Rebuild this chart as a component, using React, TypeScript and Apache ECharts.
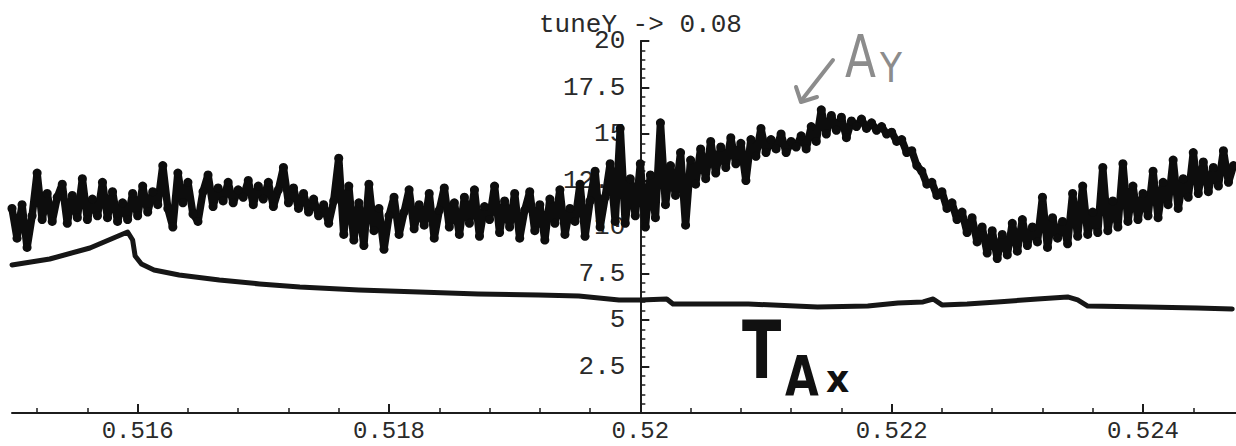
import React, { useEffect, useRef } from "react";
import * as echarts from "echarts";

// Horizontal range of the scan
const xMin = 0.515;
const xMax = 0.52474;

// Axis tick positions and labels
const xMajorTicks = [0.516, 0.518, 0.52, 0.522, 0.524];
const xMinorTicks = [
  0.5152, 0.5156, 0.5164, 0.5168, 0.5172, 0.5176, 0.5184, 0.5188, 0.5192, 0.5196,
  0.5204, 0.5208, 0.5212, 0.5216, 0.5224, 0.5228, 0.5232, 0.5236, 0.5244,
];
const yTickStep = 2.5;
const yMax = 20;
const yAxisCrossing = 0.52;

const titleText = "tuneY -> 0.08";

// Ay: noisy amplitude, sampled every 0.00004 starting at 0.515
const ayStart = 0.515;
const ayStep = 0.00004;
const ayValues = [
  11.0, 9.4, 11.2, 8.9, 10.6, 12.9, 10.4, 11.8, 10.3, 11.6, 12.3, 10.2, 11.7, 10.5, 12.6, 10.4,
  11.5, 10.6, 12.4, 10.5, 11.9, 10.3, 11.3, 10.4,
  11.8, 10.6, 12.2, 10.8, 11.9, 11.2, 13.3, 11.0, 10.0, 12.9, 11.3, 12.4, 10.7, 10.3, 11.9, 12.8,
  11.1, 12.1, 11.4, 12.4, 11.3, 12.0, 11.6, 12.5, 11.2, 12.2, 11.5, 12.4, 11.1, 12.0, 13.2, 11.3,
  12.1, 11.0, 11.8, 10.8, 11.5,
  10.6, 11.2, 10.2, 11.4, 13.7, 9.6, 12.2, 9.3, 11.3, 9.0, 12.3, 9.8, 11.0, 8.8, 10.6,
  11.6, 9.6, 10.8, 12.0, 9.9, 11.2, 10.1, 11.8, 9.4, 10.9, 12.1, 10.0, 11.3, 9.6, 11.6, 10.2,
  12.0, 9.5, 11.1, 10.4, 12.2, 9.7, 11.4, 10.0, 11.8, 9.4, 10.9, 11.9, 9.8, 11.2, 9.3, 11.5,
  10.2, 12.0, 9.6, 11.0, 10.3, 12.3, 9.5, 11.4, 13.0, 10.0, 11.6, 13.4, 10.3,
  15.3, 10.2, 12.6, 10.6, 13.4, 10.0, 12.8, 10.5, 15.6, 11.2,
  13.3, 11.7, 14.0, 10.1, 13.6, 12.3, 14.2, 12.6, 14.6, 12.9, 14.3, 13.2, 14.8, 13.4, 14.5, 12.5,
  14.7, 13.8, 15.3, 14.0, 14.7, 14.2, 15.0, 14.0, 14.6, 14.3, 14.9, 14.2, 15.4, 14.6,
  16.3, 15.0, 16.0, 15.2, 15.9, 14.8, 15.7, 15.4, 15.8, 15.3, 15.6, 15.2, 15.4, 15.0, 15.1, 14.6,
  14.7, 14.0, 14.1, 13.3,
  13.0, 12.3, 12.4, 11.7, 11.9, 11.0, 11.3, 10.4, 10.8, 9.7, 10.5, 9.2, 10.0, 8.6, 9.8, 8.3,
  9.6, 8.5, 10.2, 8.7,
  10.4, 9.0, 10.0, 9.2, 11.6, 8.9, 10.5, 9.4, 10.3, 9.1, 11.8, 9.5, 12.2, 9.6, 10.8, 9.7,
  13.2, 9.8, 11.4, 10.0, 13.4, 10.3, 12.2, 10.4, 11.8, 10.6, 13.0, 10.5, 12.4, 11.2, 13.6, 11.0,
  12.6, 11.6, 14.0, 11.8, 13.5, 11.9, 13.2, 12.2, 14.1, 12.4, 13.3,
];

// TAx: smooth amplitude trace
const taxX = [
  0.515, 0.5153, 0.51562, 0.51592, 0.51596, 0.51598, 0.51603, 0.51613, 0.51633, 0.51665,
  0.51697, 0.51729, 0.51776, 0.51824, 0.51871, 0.51919, 0.51951, 0.51983, 0.52, 0.52021,
  0.52026, 0.52086, 0.52141, 0.52181, 0.52205, 0.52225, 0.52233, 0.5224, 0.5226, 0.52284,
  0.52316, 0.5234, 0.52348, 0.52356, 0.52403, 0.52443, 0.52471,
];
const taxY = [
  7.96, 8.28, 8.87, 9.73, 9.3, 8.44, 8.01, 7.69, 7.42, 7.15,
  6.94, 6.77, 6.61, 6.51, 6.4, 6.34, 6.29, 6.08, 6.08, 6.13,
  5.86, 5.86, 5.7, 5.75, 5.91, 5.97, 6.13, 5.81, 5.86, 5.97,
  6.13, 6.24, 6.08, 5.75, 5.7, 5.65, 5.59,
];

const W = 1236;
const H = 446;
const gridLeft = 12;
const gridRight = 0;
const gridTop = 41;
const gridBottom = 33;
const mono = "'Liberation Mono', 'DejaVu Sans Mono', monospace";

export default function App() {
  const ref = useRef<HTMLDivElement>(null);

  useEffect(() => {
    if (!ref.current) return;
    const chart = echarts.init(ref.current, undefined, { renderer: "svg" });

    const ayData = ayValues.map((v, i) => [ayStart + i * ayStep, v]);
    const taxData = taxX.map((x, i) => [x, taxY[i]]);

    const plotWidth = W - gridLeft - gridRight;
    const yAxisOffset = -((yAxisCrossing - xMin) / (xMax - xMin)) * plotWidth;

    const ink = "#1c1c1c";
    const pencil = "#8c8c8c";
    const marker = "#111111";

    chart.setOption({
      animation: false,
      backgroundColor: "#ffffff",
      title: {
        text: titleText,
        left: 534,
        top: 7,
        textStyle: { fontFamily: mono, fontSize: 26, fontWeight: "normal", color: "#2a2a2a" },
      },
      grid: { left: gridLeft, right: gridRight, top: gridTop, bottom: gridBottom, containLabel: false },
      xAxis: [
        {
          type: "value",
          min: xMin,
          max: xMax,
          position: "bottom",
          splitLine: { show: false },
          axisLine: { show: true, onZero: false, lineStyle: { color: ink, width: 2 } },
          axisTick: {
            show: true,
            inside: true,
            length: 9,
            customValues: xMajorTicks,
            lineStyle: { color: ink, width: 2 },
          },
          axisLabel: {
            show: true,
            customValues: xMajorTicks,
            margin: 6,
            fontFamily: mono,
            fontSize: 24,
            lineHeight: 24,
            color: "#2a2a2a",
          },
        },
        {
          type: "value",
          min: xMin,
          max: xMax,
          position: "bottom",
          splitLine: { show: false },
          axisLine: { show: false, onZero: false },
          axisTick: {
            show: true,
            inside: true,
            length: 5,
            customValues: xMinorTicks,
            lineStyle: { color: ink, width: 1.5 },
          },
          axisLabel: { show: false },
        },
      ],
      yAxis: {
        type: "value",
        min: 0,
        max: yMax,
        interval: yTickStep,
        position: "left",
        offset: yAxisOffset,
        splitLine: { show: false },
        axisLine: { show: true, onZero: false, lineStyle: { color: ink, width: 2 } },
        axisTick: { show: true, inside: true, length: 9, lineStyle: { color: ink, width: 2 } },
        minorTick: { show: true, splitNumber: 5, length: 5, lineStyle: { color: ink, width: 1.5 } },
        axisLabel: {
          margin: 15,
          fontFamily: mono,
          fontSize: 26,
          color: "#2a2a2a",
          formatter: (v: number) => (v === 0 ? "" : String(v)),
        },
      },
      graphic: [
        // pencil note "Ay" with its arrow
        {
          type: "line",
          shape: { x1: 833, y1: 60, x2: 801, y2: 101 },
          style: { stroke: pencil, lineWidth: 4, lineCap: "round" },
          z: 20,
        },
        {
          type: "polyline",
          shape: { points: [[796, 87], [801, 102], [817, 97]] },
          style: { stroke: pencil, lineWidth: 4, lineCap: "round", lineJoin: "round", fill: "none" },
          z: 20,
        },
        {
          type: "text",
          x: 845,
          y: 86,
          scaleX: 0.78,
          style: { text: "A", font: "normal 58px 'DejaVu Sans'", fill: pencil, verticalAlign: "bottom" },
          z: 20,
        },
        {
          type: "text",
          x: 880,
          y: 88,
          scaleX: 0.9,
          style: { text: "Y", font: "normal 40px 'DejaVu Sans'", fill: pencil, verticalAlign: "bottom" },
          z: 20,
        },
        // marker note "TAx"
        {
          type: "text",
          x: 742,
          y: 390,
          scaleX: 0.72,
          style: { text: "T", font: "bold 80px 'DejaVu Sans'", fill: marker, verticalAlign: "bottom" },
          z: 20,
        },
        {
          type: "text",
          x: 785,
          y: 403,
          scaleX: 0.78,
          style: { text: "A", font: "bold 56px 'DejaVu Sans'", fill: marker, verticalAlign: "bottom" },
          z: 20,
        },
        {
          type: "text",
          x: 826,
          y: 398,
          scaleX: 0.95,
          style: { text: "x", font: "bold 38px 'DejaVu Sans'", fill: marker, verticalAlign: "bottom" },
          z: 20,
        },
      ],
      series: [
        {
          name: "Ay",
          type: "line",
          xAxisIndex: 0,
          data: ayData,
          showSymbol: true,
          symbol: "circle",
          symbolSize: 9,
          itemStyle: { color: "#0d0d0d" },
          lineStyle: { color: "#0d0d0d", width: 7.5, cap: "round", join: "round" },
          z: 3,
        },
        {
          name: "TAx",
          type: "line",
          xAxisIndex: 0,
          data: taxData,
          showSymbol: false,
          lineStyle: { color: "#161616", width: 5, cap: "round", join: "round" },
          z: 3,
        },
      ],
    });

    return () => chart.dispose();
  }, []);

  return (
    <div
      ref={ref}
      style={{ position: "absolute", left: 0, top: 0, width: W, height: H, background: "#fff" }}
    />
  );
}
